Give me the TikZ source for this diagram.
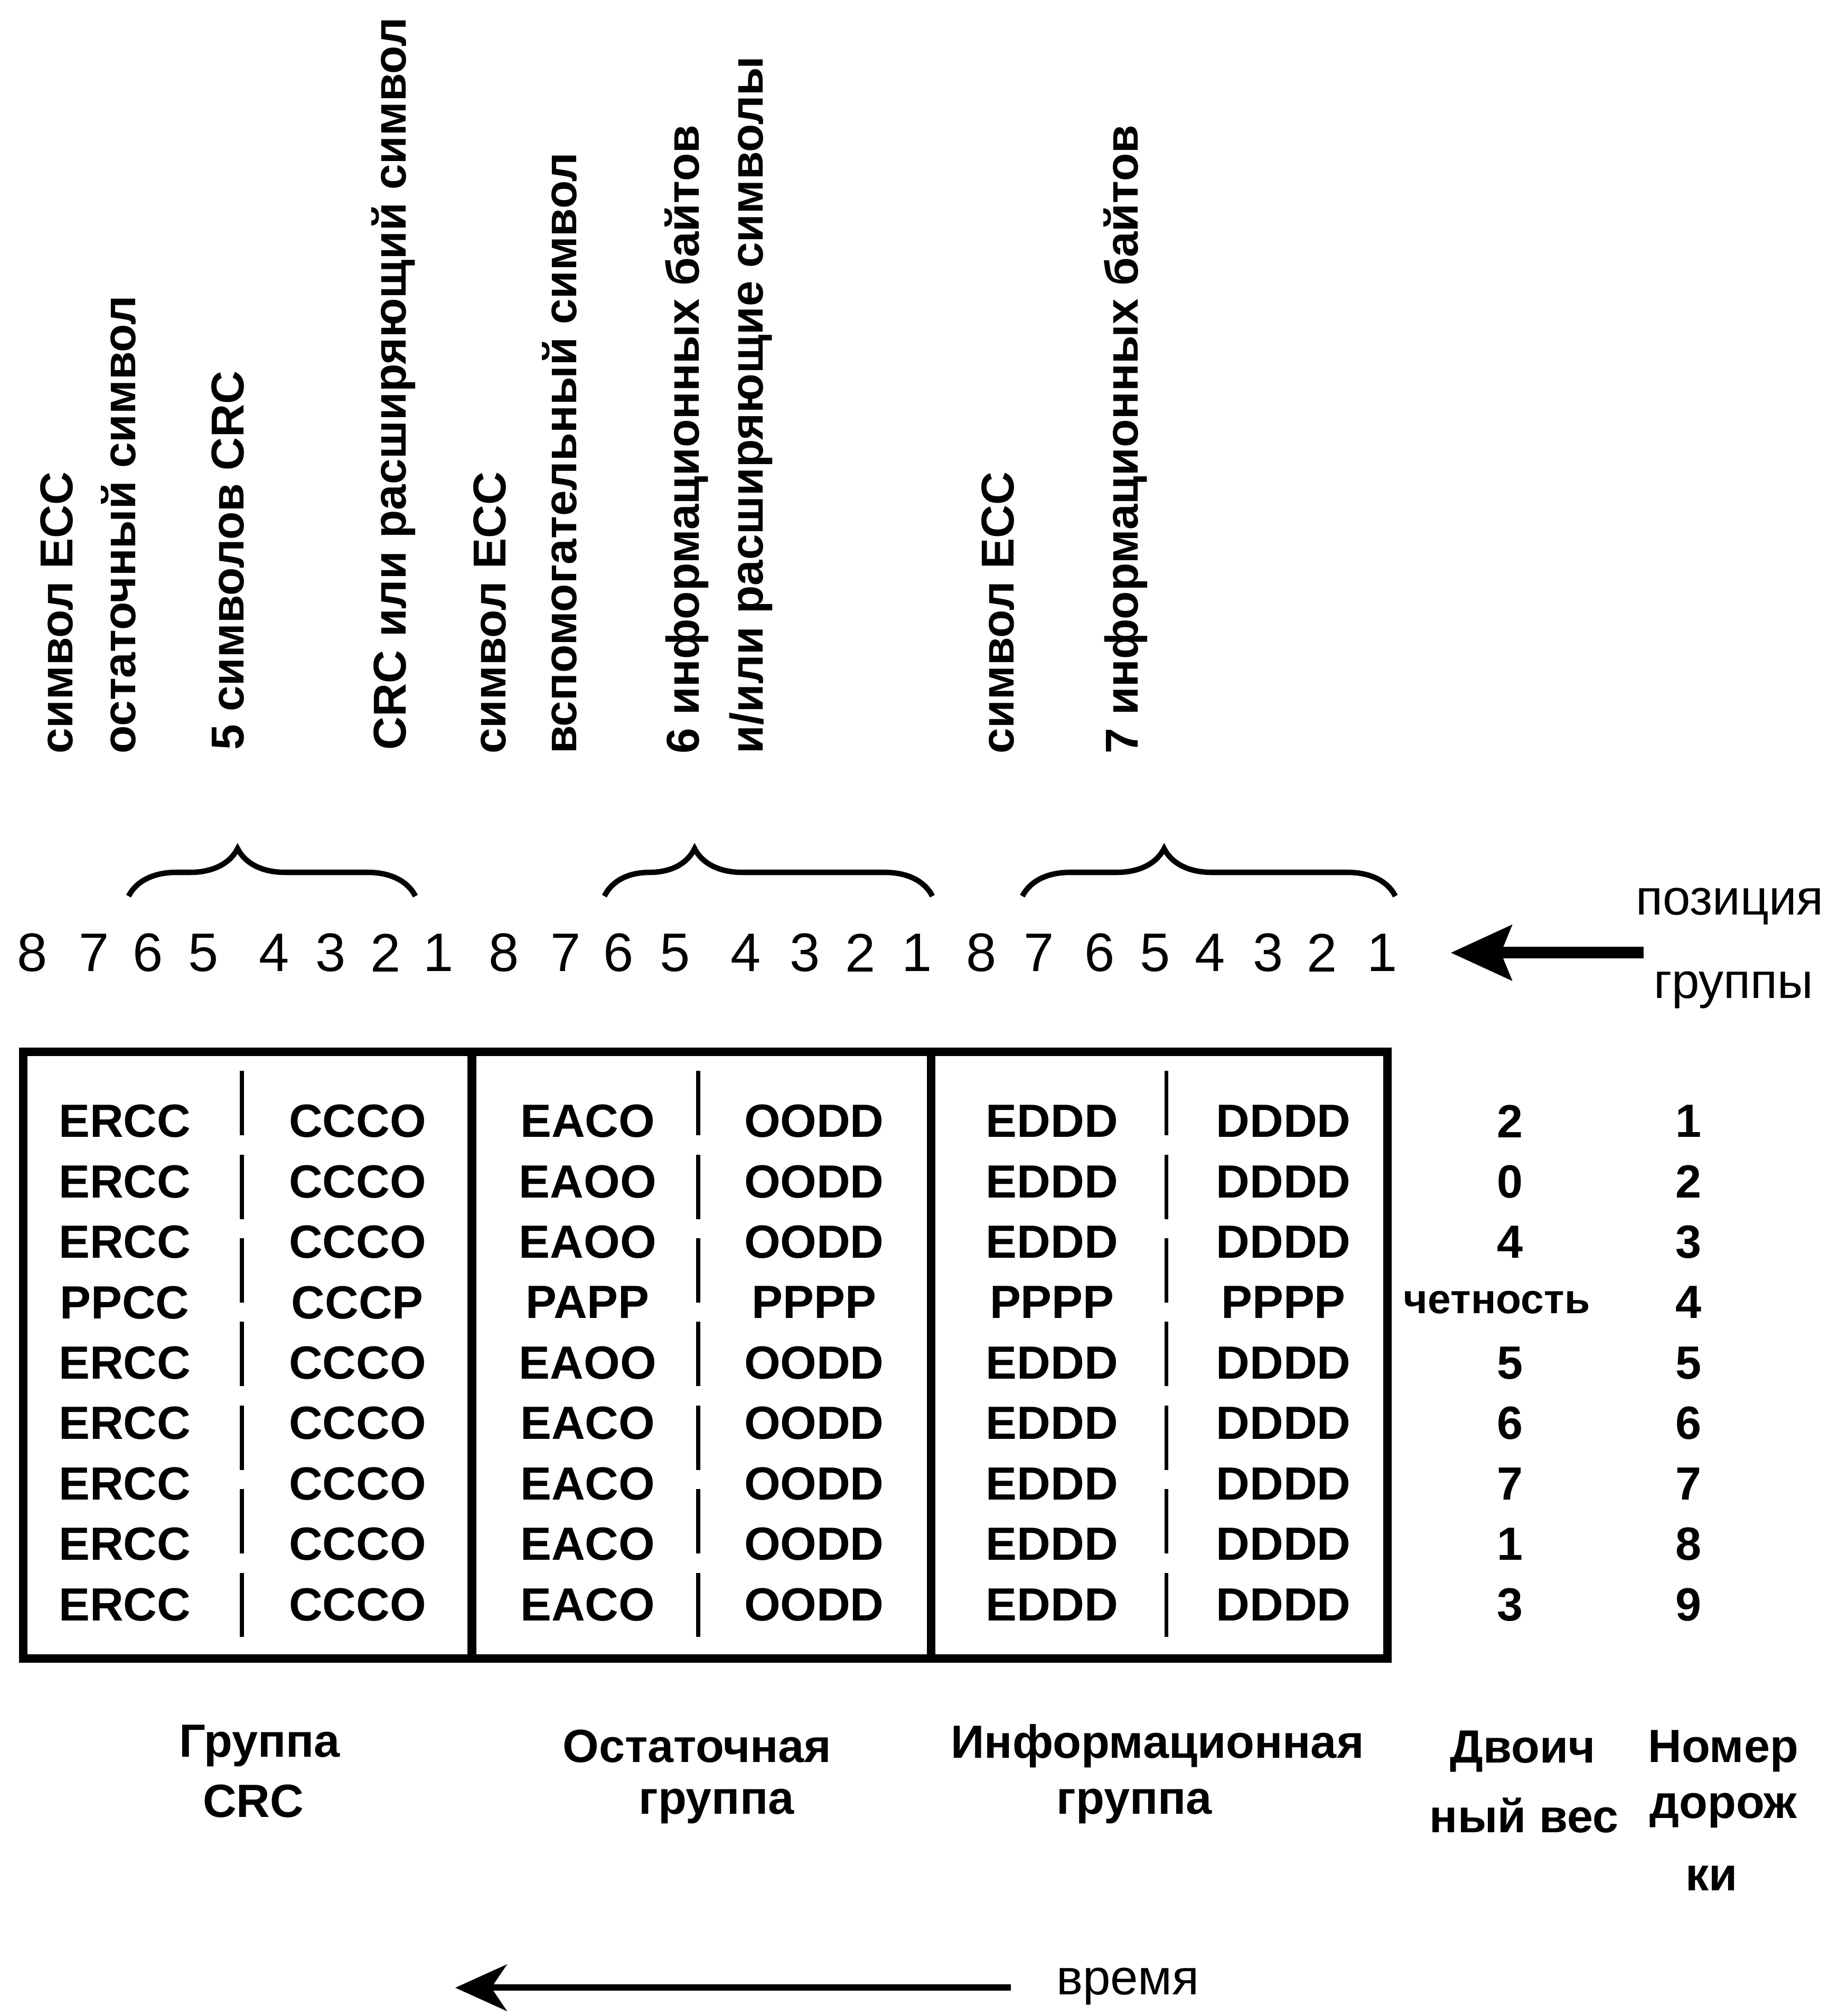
\documentclass[tikz,border=0pt]{standalone}
\usepackage{fontspec}
\setmainfont{Liberation Sans}
\usetikzlibrary{arrows.meta,decorations.pathreplacing}

\begin{document}
\begin{tikzpicture}[x=0.01cm,y=-0.01cm,
  vlabel/.style={rotate=90, anchor=west, inner sep=0pt, font=\fontsize{10.2}{12}\selectfont\bfseries},
  posnum/.style={inner sep=0pt, font=\fontsize{12}{14}\selectfont},
  cell/.style={inner sep=0pt, font=\fontsize{10.3}{12}\selectfont\bfseries},
  side/.style={inner sep=0pt, font=\fontsize{11}{13}\selectfont},
  glabel/.style={inner sep=0pt, font=\fontsize{10.3}{12}\selectfont\bfseries},
  frame/.style={line width=1.9pt},
  subdiv/.style={line width=0.9pt, dash pattern=on 0.5cm off 0.15cm},
  grpbrace/.style={decorate, decoration={brace, amplitude=0.37cm, aspect=#1}, line width=1.2pt},
  ]
\useasboundingbox (0,0) rectangle (1422,1568);

% column headings, read bottom to top
\node[vlabel] (l1) at (44,587) {символ ECC};
\node[vlabel] (l2) at (92,587) {остаточный символ};
\node[vlabel] (l3) at (177,584) {5 символов CRC};
\node[vlabel] (l4) at (306,584) {CRC или расширяющий символ};
\node[vlabel] (l5) at (381,587) {символ ECC};
\node[vlabel] (l6) at (435,587) {вспомогательный символ};
\node[vlabel] (l7) at (534,587) {6 информационных байтов};
\node[vlabel] (l8) at (584,587) {и/или расширяющие символы};
\node[vlabel] (l9) at (776,587) {символ ECC};
\node[vlabel] (l10) at (875,587) {7 информационных байтов};

% braces over the groups
\coordinate (b1a) at (100,697); \coordinate (b1b) at (323,697);
\coordinate (b2a) at (470,697); \coordinate (b2b) at (725,697);
\coordinate (b3a) at (795,697); \coordinate (b3b) at (1085,697);
\draw[grpbrace=0.38] (b1a) -- (b1b);
\draw[grpbrace=0.275] (b2a) -- (b2b);
\draw[grpbrace=0.38] (b3a) -- (b3b);

% position in group
\foreach \x [count=\k] in {25,73,115,158,213,257,300,341,392,440,481,525,580,626,669,713,763,808,855,898,941,986,1028,1075}{
  \pgfmathtruncatemacro{\dg}{8-mod(\k-1,8)}
  \node[posnum] (p\k) at (\x,741) {\dg};
}
\node[side] (pos1) at (1345,705) {позиция};
\node[side] (pos2) at (1348,770) {группы};
\coordinate (pa) at (1278,741);
\coordinate (pb) at (1128,741);
\draw[line width=2.6pt, -{Stealth[length=0.47cm, width=0.42cm, inset=0.08cm]}] (pa) -- (pb);

% the frame
\draw[frame] (18,818) rectangle (1079,1290);
\draw[frame] (367,818) -- (367,1290);
\draw[frame] (724,818) -- (724,1290);
\foreach \x in {188,543,907} \draw[subdiv] (\x,833) -- (\x,1287);

% tracks
\foreach \cA/\cB/\cC/\cD/\cE/\cF [count=\i] in {
  ERCC/CCCO/EACO/OODD/EDDD/DDDD,
  ERCC/CCCO/EAOO/OODD/EDDD/DDDD,
  ERCC/CCCO/EAOO/OODD/EDDD/DDDD,
  PPCC/CCCP/PAPP/PPPP/PPPP/PPPP,
  ERCC/CCCO/EAOO/OODD/EDDD/DDDD,
  ERCC/CCCO/EACO/OODD/EDDD/DDDD,
  ERCC/CCCO/EACO/OODD/EDDD/DDDD,
  ERCC/CCCO/EACO/OODD/EDDD/DDDD,
  ERCC/CCCO/EACO/OODD/EDDD/DDDD}{
  \node[cell] (r\i-1) at (97,{825+47*\i}) {\cA};
  \node[cell] (r\i-2) at (278,{825+47*\i}) {\cB};
  \node[cell] (r\i-3) at (457,{825+47*\i}) {\cC};
  \node[cell] (r\i-4) at (633,{825+47*\i}) {\cD};
  \node[cell] (r\i-5) at (818,{825+47*\i}) {\cE};
  \node[cell] (r\i-6) at (998,{825+47*\i}) {\cF};
  \node[cell] (n\i) at (1313,{825+47*\i}) {\i};
}
\foreach \w/\i in {2/1,0/2,4/3,5/5,6/6,7/7,1/8,3/9}
  \node[cell] (w\i) at (1174,{825+47*\i}) {\w};
\node[inner sep=0pt, font=\fontsize{9.2}{11}\selectfont\bfseries] (w4) at (1164,1013) {четность};

% names under the table
\node[glabel] (g1a) at (202,1358) {Группа};
\node[glabel] (g1b) at (197,1401) {CRC};
\node[glabel] (g2a) at (542,1358) {Остаточная};
\node[glabel] (g2b) at (557,1405) {группа};
\node[glabel] (g3a) at (900,1358) {Информационная};
\node[glabel] (g3b) at (882,1405) {группа};
\node[glabel] (g4a) at (1184,1362) {Двоич};
\node[glabel] (g4b) at (1185,1412) {ный вес};
\node[glabel] (g5a) at (1340,1362) {Номер};
\node[glabel] (g5b) at (1340,1408) {дорож};
\node[glabel] (g5c) at (1331,1461) {ки};

% time axis
\coordinate (ta) at (786,1546);
\coordinate (tb) at (354,1546);
\draw[line width=1.4pt, -{Stealth[length=0.4cm, width=0.36cm, inset=0.12cm]}] (ta) -- (tb);
\node[side] (tm) at (877,1545) {время};
\end{tikzpicture}
\end{document}
